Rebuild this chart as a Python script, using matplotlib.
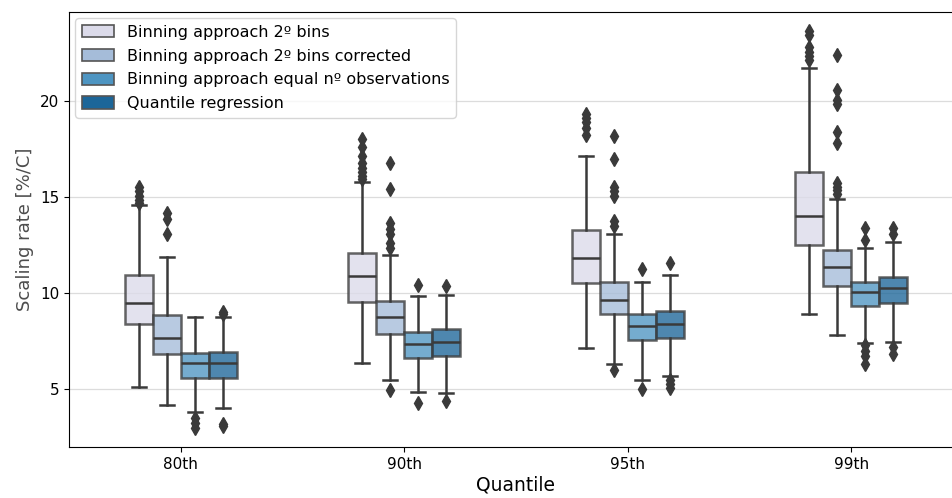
import numpy as np
import matplotlib.pyplot as plt
from matplotlib.patches import Patch

quantiles = ['80th', '90th', '95th', '99th']
methods = ['Binning approach 2º bins',
           'Binning approach 2º bins corrected',
           'Binning approach equal nº observations',
           'Quantile regression']
colors = ['#dcdbea', '#a5bcd9', '#4e95c2', '#1c6699']

# box stats, one row per method, one column per quantile
q1 = [[8.38, 9.54, 10.54, 12.50],
      [6.82, 7.89, 8.90, 10.37],
      [5.60, 6.63, 7.53, 9.33],
      [5.60, 6.73, 7.67, 9.47]]
med = [[9.50, 10.89, 11.81, 14.02],
       [7.68, 8.77, 9.63, 11.37],
       [6.35, 7.37, 8.26, 10.04],
       [6.38, 7.44, 8.39, 10.25]]
q3 = [[10.93, 12.07, 13.31, 16.31],
      [8.84, 9.59, 10.59, 12.22],
      [6.87, 7.96, 8.90, 10.59],
      [6.95, 8.12, 9.07, 10.85]]
whislo = [[5.12, 6.33, 7.16, 8.91],
          [4.17, 5.45, 6.30, 7.81],
          [3.80, 4.86, 5.47, 7.42],
          [3.99, 4.81, 5.68, 7.47]]
whishi = [[14.60, 15.81, 17.16, 21.72],
          [11.86, 12.00, 13.10, 14.89],
          [8.76, 9.85, 10.59, 12.36],
          [8.74, 9.92, 10.94, 12.64]]
fliers = [
    [[15.5, 15.3, 15.05, 14.85, 14.7],
     [18.05, 17.6, 17.15, 16.8, 16.5, 16.3, 16.1, 15.95],
     [19.35, 19.1, 18.9, 18.6, 18.25],
     [23.65, 23.45, 22.8, 22.55, 22.35, 22.15]],
    [[14.15, 13.85, 13.1],
     [16.75, 15.4, 13.65, 13.35, 13.1, 12.6, 12.35, 4.95],
     [18.2, 17.0, 15.55, 15.3, 15.05, 13.75, 13.5, 6.0],
     [22.4, 20.6, 20.05, 19.85, 18.4, 17.8, 15.75, 15.55, 15.35, 15.15]],
    [[3.5, 3.25, 2.97],
     [10.44, 4.27],
     [11.25, 4.98],
     [13.37, 12.76, 7.3, 7.0, 6.7, 6.3]],
    [[9.03, 8.9, 3.2, 3.05],
     [10.37, 4.36],
     [11.55, 5.45, 5.25, 5.05],
     [13.37, 13.1, 7.2, 6.85]],
]

fig = plt.figure(figsize=(9.52, 4.98), dpi=100)
ax = fig.add_axes([0.0725, 0.1024, 0.939, 0.8735])

line_col = '#3a3a3a'
box_w = 0.125
offsets = (np.arange(4) - 1.5) * box_w
x = np.arange(len(quantiles))

for j in range(len(methods)):
    stats = []
    for i in range(len(quantiles)):
        stats.append(dict(med=med[j][i], q1=q1[j][i], q3=q3[j][i],
                          whislo=whislo[j][i], whishi=whishi[j][i],
                          fliers=fliers[j][i]))
    bp = ax.bxp(stats, positions=x + offsets[j], widths=box_w,
                patch_artist=True, manage_ticks=False,
                boxprops=dict(facecolor=colors[j], edgecolor=line_col,
                              linewidth=1.8, alpha=0.78),
                medianprops=dict(color=line_col, linewidth=1.8),
                whiskerprops=dict(color=line_col, linewidth=1.8),
                capprops=dict(color=line_col, linewidth=1.8),
                flierprops=dict(marker='d', markerfacecolor=line_col,
                                markeredgecolor=line_col, markersize=7))
    for b in bp['boxes']:
        b.set_zorder(2)

ax.set_xlim(-0.5, 3.5)
ax.set_ylim(1.98, 24.64)
ax.set_xticks(x)
ax.set_xticklabels(quantiles)
ax.set_yticks([5, 10, 15, 20])
ax.tick_params(labelsize=11)
ax.yaxis.grid(True, color='#dcdcdc', linewidth=0.9)
ax.set_axisbelow(True)
ax.set_xlabel('Quantile', fontsize=13.5, labelpad=3)
ax.set_ylabel('Scaling rate [%/C]', fontsize=13, color='#4d4d4d')

handles = [Patch(facecolor=c, edgecolor='#555555', linewidth=1.2) for c in colors]
ax.legend(handles, methods, loc='upper left', fontsize=11.5,
          borderaxespad=0.4, labelspacing=0.55, handleheight=0.8)

fig.savefig('out.png', dpi=100)
